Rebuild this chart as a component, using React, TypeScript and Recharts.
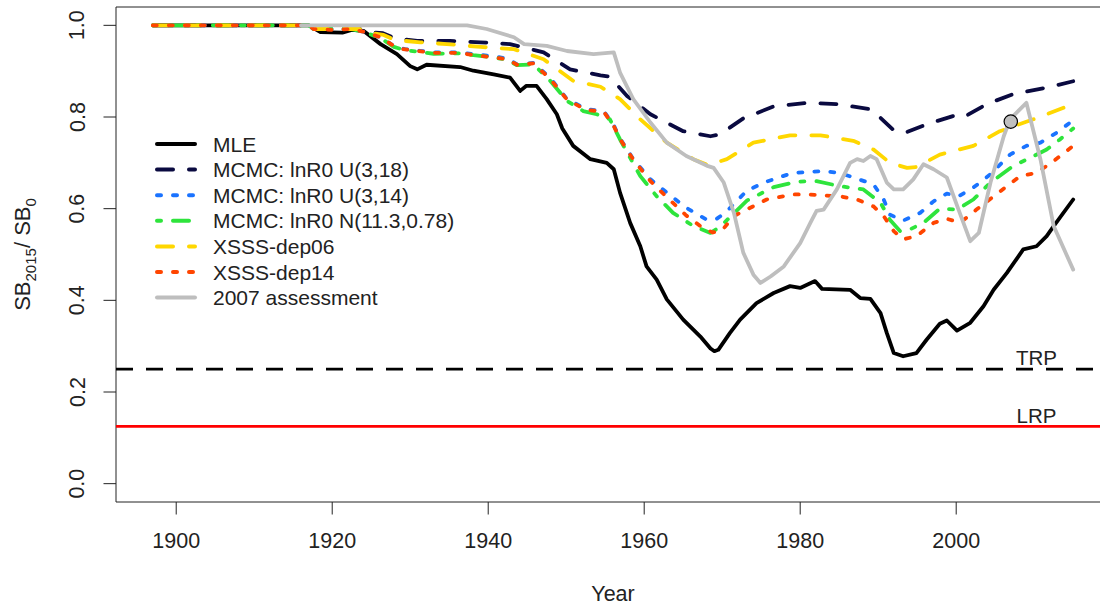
import {
  LineChart,
  Line,
  XAxis,
  YAxis,
  ReferenceLine,
  ReferenceDot,
  ReferenceArea,
  Legend,
} from "recharts";

const FONT = '"Liberation Sans", Arial, sans-serif';
const INK = "#222";

// axis extents (R style: data range 1897-2015 / 0-1, padded 4%)
const X_MIN = 1892.28;
const X_MAX = 2019.72;
const Y_MIN = -0.04;
const Y_MAX = 1.04;

const YEAR_TICKS = [1900, 1920, 1940, 1960, 1980, 2000];
const RATIO_TICKS = [0, 0.2, 0.4, 0.6, 0.8, 1.0];

const TRP = 0.25;
const LRP = 0.125;
const REF_LABEL_YEAR = 2010.3;
const ASSESS_2007 = { year: 2007, value: 0.79 };

// [year, SB/SB0]
const mle: [number, number][] = [
  [1897, 1], [1917, 1], [1918.5, 0.985], [1921.3, 0.984], [1922.5, 0.99], [1924, 0.988],
  [1926.2, 0.959], [1928.3, 0.937], [1930, 0.911], [1930.9, 0.904], [1932.1, 0.914],
  [1936.4, 0.909], [1938.1, 0.901], [1940.7, 0.893], [1942.8, 0.886], [1944.1, 0.857],
  [1944.9, 0.868], [1946.2, 0.868], [1947.5, 0.839], [1948.8, 0.806], [1949.5, 0.775],
  [1950.9, 0.737], [1953.1, 0.708], [1955.2, 0.7], [1956.1, 0.686], [1956.9, 0.635],
  [1958.2, 0.569], [1959.5, 0.518], [1960.3, 0.474], [1961.6, 0.445], [1962.9, 0.402],
  [1965, 0.358], [1967.2, 0.321], [1968.5, 0.295], [1969, 0.289], [1969.5, 0.292],
  [1971, 0.329], [1972.3, 0.358], [1974.4, 0.394], [1976.6, 0.416], [1978.7, 0.431],
  [1980, 0.427], [1981.9, 0.442], [1982.8, 0.425], [1986.4, 0.423], [1987.7, 0.405],
  [1989, 0.403], [1990.3, 0.372], [1991.1, 0.329], [1992, 0.285], [1993.2, 0.278],
  [1994.9, 0.285], [1996.2, 0.314], [1997.9, 0.349], [1998.8, 0.356], [2000.1, 0.334],
  [2001.8, 0.351], [2003.5, 0.387], [2004.8, 0.423], [2006.5, 0.46], [2008.6, 0.511],
  [2010.3, 0.518], [2011.6, 0.54], [2012.5, 0.562], [2015, 0.62],
];

const mcmcU18: [number, number][] = [
  [1897, 1], [1917, 1], [1918, 0.992], [1923.5, 0.992], [1925, 0.985], [1926.5, 0.983],
  [1928, 0.972], [1930.9, 0.966], [1935.1, 0.966], [1939, 0.963], [1942.8, 0.959],
  [1947.1, 0.941], [1950.5, 0.904], [1954.4, 0.891], [1955.6, 0.888], [1957.8, 0.846],
  [1960.8, 0.806], [1965, 0.769], [1968.5, 0.758], [1969.7, 0.762], [1972.7, 0.797],
  [1976.6, 0.823], [1980.9, 0.831], [1984.7, 0.828], [1989, 0.817], [1989.8, 0.806],
  [1992, 0.771], [1993.5, 0.766], [1996.2, 0.784], [1999.6, 0.802], [2000.9, 0.799],
  [2003.9, 0.828], [2007.3, 0.85], [2011.6, 0.864], [2015, 0.878],
];

const mcmcU14: [number, number][] = [
  [1897, 1], [1917, 1], [1917.6, 0.992], [1922.3, 0.992], [1924, 0.986], [1926.2, 0.974],
  [1927.9, 0.955], [1929.3, 0.948], [1933, 0.941], [1936.4, 0.941], [1938.1, 0.937],
  [1940.3, 0.933], [1942.4, 0.928], [1943.7, 0.915], [1945.8, 0.918], [1947.9, 0.886],
  [1950.1, 0.839], [1952.6, 0.817], [1954.8, 0.813], [1956.1, 0.782], [1956.9, 0.753],
  [1958.6, 0.708], [1960.8, 0.664], [1962.9, 0.635], [1965.4, 0.602], [1968, 0.576],
  [1969.3, 0.578], [1970.4, 0.591], [1973.2, 0.64], [1975.7, 0.659], [1979, 0.678],
  [1983, 0.682], [1985.1, 0.678], [1989.4, 0.653], [1990.7, 0.62], [1991.5, 0.587],
  [1993.2, 0.574], [1995.4, 0.591], [1997.1, 0.616], [1998.8, 0.633], [2000.3, 0.627],
  [2002.2, 0.646], [2004.4, 0.675], [2006.9, 0.718], [2009, 0.737], [2010.8, 0.744],
  [2012.9, 0.766], [2015, 0.793],
];

const mcmcN: [number, number][] = [
  [1897, 1], [1917, 1], [1917.6, 0.992], [1922.3, 0.992], [1924, 0.986], [1926.2, 0.972],
  [1927.9, 0.953], [1929.3, 0.946], [1933, 0.938], [1936.4, 0.939], [1938.1, 0.935],
  [1940.3, 0.931], [1942.4, 0.925], [1943.7, 0.913], [1945.8, 0.915], [1947.9, 0.88],
  [1950.1, 0.835], [1952.2, 0.813], [1953.9, 0.806], [1955.6, 0.795], [1956.9, 0.751],
  [1959.5, 0.671], [1961.6, 0.627], [1963.7, 0.591], [1966.3, 0.562], [1968.5, 0.547],
  [1969.7, 0.56], [1973.2, 0.618], [1976.6, 0.647], [1979.6, 0.659], [1982.1, 0.66],
  [1985.1, 0.649], [1988.1, 0.642], [1990.3, 0.613], [1991.5, 0.576], [1992.8, 0.551],
  [1994.1, 0.555], [1995.8, 0.569], [1997.9, 0.6], [2000.1, 0.598], [2002.2, 0.62],
  [2004.4, 0.657], [2007.3, 0.693], [2009.5, 0.711], [2011.6, 0.729], [2013.3, 0.751],
  [2015, 0.775],
];

const dep06: [number, number][] = [
  [1897, 1], [1917, 1], [1918, 0.992], [1923.5, 0.992], [1925, 0.983], [1926.6, 0.979],
  [1928, 0.968], [1931.3, 0.963], [1934.7, 0.959], [1939, 0.953], [1943.3, 0.948],
  [1947.1, 0.926], [1950.9, 0.879], [1954.4, 0.866], [1956.9, 0.839], [1959.5, 0.795],
  [1962.9, 0.744], [1966.3, 0.708], [1968.2, 0.695], [1970.6, 0.708], [1974, 0.744],
  [1978.7, 0.76], [1982.6, 0.76], [1986.8, 0.748], [1989.4, 0.729], [1991.5, 0.7],
  [1993.7, 0.689], [1994.9, 0.691], [1997.9, 0.718], [2002.2, 0.737], [2005.6, 0.769],
  [2009.9, 0.795], [2015, 0.828],
];

const dep14: [number, number][] = [
  [1897, 1], [1917, 1], [1917.6, 0.992], [1920.2, 0.99], [1922.3, 0.992], [1924, 0.986],
  [1926.2, 0.974], [1927.9, 0.955], [1929.1, 0.948], [1933, 0.94], [1936.4, 0.94],
  [1938.1, 0.935], [1940.3, 0.931], [1942.4, 0.926], [1943.7, 0.914], [1945.8, 0.917],
  [1947.9, 0.884], [1950.1, 0.838], [1952.6, 0.815], [1954.8, 0.812], [1956.1, 0.78],
  [1956.9, 0.752], [1958.6, 0.707], [1960.8, 0.66], [1962.9, 0.625], [1965.4, 0.585],
  [1967.5, 0.558], [1968.8, 0.548], [1970, 0.553], [1971.5, 0.584], [1975.7, 0.62],
  [1979.1, 0.631], [1980.9, 0.631], [1985.1, 0.627], [1987.3, 0.62], [1989.4, 0.605],
  [1990.7, 0.584], [1992, 0.551], [1993.2, 0.533], [1994.9, 0.54], [1997.1, 0.569],
  [1998.8, 0.578], [2000.5, 0.569], [2002.6, 0.598], [2004.8, 0.627], [2008.2, 0.671],
  [2010.3, 0.678], [2012.5, 0.704], [2015, 0.737],
];

const assess2007: [number, number][] = [
  [1916, 1], [1937.3, 1], [1939.8, 0.992], [1943.3, 0.974], [1944.6, 0.959], [1947.5, 0.955],
  [1950.1, 0.944], [1953.5, 0.937], [1956.1, 0.941], [1956.9, 0.897], [1958.6, 0.839],
  [1960.8, 0.788], [1962.9, 0.744], [1965.4, 0.715], [1968, 0.694], [1968.9, 0.689],
  [1970.2, 0.657], [1971.5, 0.591], [1972.7, 0.504], [1974, 0.456], [1974.9, 0.438],
  [1976.2, 0.452], [1977.9, 0.474], [1980, 0.525], [1981.3, 0.569], [1982.1, 0.595],
  [1983, 0.598], [1984.7, 0.642], [1986.4, 0.7], [1987.3, 0.708], [1988.1, 0.704],
  [1989, 0.715], [1989.8, 0.708], [1991.1, 0.657], [1992, 0.642], [1993.2, 0.642],
  [1994.5, 0.664], [1995.8, 0.697], [1997.1, 0.686], [1998.8, 0.668], [2000.3, 0.598],
  [2001.8, 0.529], [2002.9, 0.547], [2004.4, 0.657], [2006.1, 0.758], [2006.9, 0.795],
  [2009, 0.831], [2010.8, 0.708], [2012.5, 0.562], [2015, 0.467],
];

const SERIES = [
  { name: "MLE", points: mle, color: "#000000", dash: undefined },
  { name: "MCMC: lnR0 U(3,18)", points: mcmcU18, color: "#0a0a40", dash: "16 16" },
  { name: "MCMC: lnR0 U(3,14)", points: mcmcU14, color: "#1a73ff", dash: "4 12" },
  { name: "MCMC: lnR0 N(11.3,0.78)", points: mcmcN, color: "#2ee43c", dash: "4 12 16 12" },
  { name: "XSSS-dep06", points: dep06, color: "#ffd700", dash: "16 16" },
  { name: "XSSS-dep14", points: dep14, color: "#ff4500", dash: "4 12" },
  { name: "2007 assessment", points: assess2007, color: "#bebebe", dash: undefined },
];

const toRows = (pts: [number, number][]) => pts.map(([year, value]) => ({ year, value }));

function RatioTick(props: any) {
  const { x, y, payload } = props;
  const cx = x - 19;
  return (
    <text
      x={cx}
      y={y}
      transform={`rotate(-90, ${cx}, ${y})`}
      textAnchor="middle"
      fill={INK}
      fontSize={21.5}
      fontFamily={FONT}
    >
      {payload.value.toFixed(1)}
    </text>
  );
}

function RatioTitle(props: any) {
  const vb = props.viewBox;
  const x = vb.x + 30;
  const y = vb.y + vb.height / 2;
  return (
    <text
      x={x}
      y={y}
      transform={`rotate(-90, ${x}, ${y})`}
      textAnchor="middle"
      fill={INK}
      fontSize={22}
      fontFamily={FONT}
    >
      SB
      <tspan dy={6} fontSize={15}>2015</tspan>
      <tspan dy={-6}>/ SB</tspan>
      <tspan dy={6} fontSize={15}>0</tspan>
    </text>
  );
}

function LegendBox() {
  return (
    <svg width={320} height={185}>
      {SERIES.map((s, i) => {
        const y = 16 + i * 25.6;
        return (
          <g key={s.name}>
            <line
              x1={7}
              x2={45}
              y1={y}
              y2={y}
              stroke={s.color}
              strokeWidth={4}
              strokeDasharray={s.dash}
              strokeLinecap="round"
            />
            <text x={63} y={y} dy="0.36em" fill={INK} fontSize={21} fontFamily={FONT}>
              {s.name}
            </text>
          </g>
        );
      })}
    </svg>
  );
}

export default function App() {
  return (
    <div
      style={{
        position: "absolute",
        left: 0,
        top: 0,
        width: 1100,
        height: 608,
        overflow: "hidden",
        background: "#fff",
      }}
    >
      <LineChart width={1110} height={608} margin={{ top: 7, right: 0, bottom: 0, left: 0 }}>
        <XAxis
          dataKey="year"
          type="number"
          domain={[X_MIN, X_MAX]}
          allowDataOverflow
          ticks={YEAR_TICKS}
          interval={0}
          height={106}
          axisLine={false}
          tickLine={{ stroke: INK }}
          tickSize={12.5}
          tickMargin={18.5}
          tick={{ fill: INK, fontSize: 21.5, fontFamily: FONT }}
          label={{ value: "Year", position: "insideBottom", offset: 7, fill: INK, fontSize: 21.5, fontFamily: FONT }}
        />
        <YAxis
          type="number"
          domain={[Y_MIN, Y_MAX]}
          allowDataOverflow
          ticks={RATIO_TICKS}
          interval={0}
          width={116}
          axisLine={false}
          tickLine={{ stroke: INK }}
          tickSize={12.5}
          tickMargin={0}
          tick={<RatioTick />}
          label={{ content: <RatioTitle /> }}
        />
        <ReferenceArea
          x1={X_MIN}
          x2={X_MAX}
          y1={Y_MIN}
          y2={Y_MAX}
          fill="none"
          stroke={INK}
          strokeWidth={1}
        />
        <ReferenceLine y={TRP} stroke="#000" strokeWidth={2.8} strokeDasharray="17 13" />
        <ReferenceLine y={LRP} stroke="#ff0000" strokeWidth={2.8} />
        {SERIES.map((s) => (
          <Line
            key={s.name}
            name={s.name}
            data={toRows(s.points)}
            dataKey="value"
            type="linear"
            stroke={s.color}
            strokeWidth={3.8}
            strokeDasharray={s.dash}
            strokeLinecap="round"
            strokeLinejoin="round"
            dot={false}
            activeDot={false}
            isAnimationActive={false}
          />
        ))}
        <ReferenceDot
          x={REF_LABEL_YEAR}
          y={TRP}
          r={0}
          fill="none"
          stroke="none"
          label={{ value: "TRP", position: "top", offset: 4, fill: INK, fontSize: 20.5, fontFamily: FONT }}
        />
        <ReferenceDot
          x={REF_LABEL_YEAR}
          y={LRP}
          r={0}
          fill="none"
          stroke="none"
          label={{ value: "LRP", position: "top", offset: 3, fill: INK, fontSize: 20.5, fontFamily: FONT }}
        />
        <ReferenceDot
          x={ASSESS_2007.year}
          y={ASSESS_2007.value}
          r={6.7}
          fill="#c0c0c0"
          stroke="#000"
          strokeWidth={1.2}
        />
        <Legend
          layout="vertical"
          align="center"
          verticalAlign="middle"
          wrapperStyle={{ left: 150, top: 128, width: 320 }}
          content={<LegendBox />}
        />
      </LineChart>
    </div>
  );
}
